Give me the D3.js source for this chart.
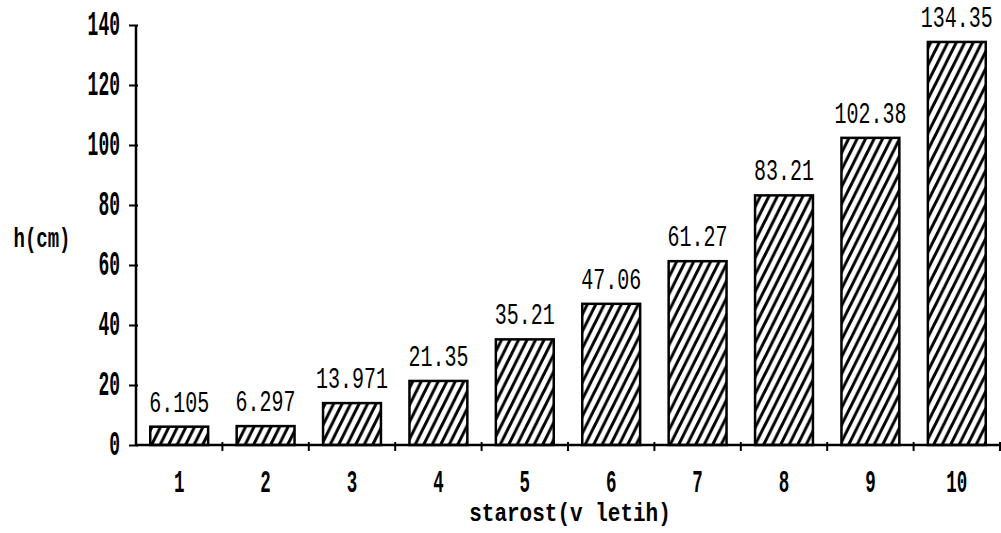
<!DOCTYPE html>
<html><head><meta charset="utf-8">
<script src="https://cdn.jsdelivr.net/npm/d3@7"></script>
<style>body{margin:0;background:#fff}svg{display:block}</style>
</head><body>
<svg id="c" width="1001" height="533"></svg>
<script>
const categories = ["1","2","3","4","5","6","7","8","9","10"];
const values = [6.105, 6.297, 13.971, 21.35, 35.21, 47.06, 61.27, 83.21, 102.38, 134.35];
const valueLabels = ["6.105","6.297","13.971","21.35","35.21","47.06","61.27","83.21","102.38","134.35"];
const yTicks = [0,20,40,60,80,100,120,140];
const yTickLabels = ["0","20","40","60","80","100","120","140"];
const xTitle = "starost(v letih)";
const yTitle = "h(cm)";

const svg = d3.select("#c");
const font = "'Liberation Mono', 'DejaVu Sans Mono', monospace";
const x = d3.scaleBand().domain(categories).range([136, 1000]).paddingInner(0.33).paddingOuter(0.165);
const y = d3.scaleLinear().domain([0,140]).range([445, 25]);

const defs = svg.append("defs");
const pat = defs.append("pattern").attr("id","hatch").attr("patternUnits","userSpaceOnUse")
  .attr("width",8.5).attr("height",17);
pat.append("path").attr("d","M-4.25,25.5 L8.5,0 M0,17 L8.5,0 M0,17 L12.75,-8.5 M-4.25,8.5 L4.25,-8.5 M4.25,25.5 L12.75,8.5")
  .attr("stroke","#000").attr("stroke-width",3).attr("fill","none");

function txt(g, s, px, py, size, weight, anchor, sx, sy){
  return g.append("text").attr("transform",`translate(${px},${py}) scale(${sx},${sy})`)
    .attr("text-anchor",anchor).attr("font-family",font).attr("font-size",size)
    .attr("font-weight",weight).attr("fill","#000").text(s);
}

// bars
svg.append("g").selectAll("rect").data(values).join("rect")
  .attr("x",(d,i)=>x(categories[i])).attr("width",x.bandwidth())
  .attr("y",d=>y(d)).attr("height",d=>y(0)-y(d))
  .attr("fill","url(#hatch)").attr("stroke","#000").attr("stroke-width",2.5);

// y axis
const ya = svg.append("g").attr("transform","translate(136,0)")
  .call(d3.axisLeft(y).tickValues(yTicks).tickSize(7).tickFormat(""));
ya.select(".domain").attr("stroke-width",2.5).attr("d","M0,25V445");
ya.selectAll(".tick line").attr("stroke-width",2).attr("x2",-7).attr("x1",2);
const yl = svg.append("g");
yTicks.forEach((t,i)=>txt(yl, yTickLabels[i], 120, y(t)+10, 18, "bold", "end", 1.0, 1.9));

// x axis
const bounds = d3.range(1, categories.length+1).map(i => 136 + i*x.step());
const xa = svg.append("g").attr("transform","translate(0,445)");
xa.call(d3.axisBottom(x).tickSize(0).tickFormat(""));
xa.select(".domain").attr("stroke-width",2.5).attr("d","M136,0H1000");
xa.selectAll("line.b").data(bounds).join("line").attr("class","b")
  .attr("x1",d=>d).attr("x2",d=>d).attr("y1",-3).attr("y2",6).attr("stroke","#000").attr("stroke-width",2);
const xl = svg.append("g");
categories.forEach(c=>txt(xl, c, x(c)+x.bandwidth()/2, 492, 17.5, "bold", "middle", 1.0, 1.75));

// value labels
const vl = svg.append("g");
values.forEach((v,i)=>txt(vl, valueLabels[i], x(categories[i])+x.bandwidth()/2, y(v)-15, 20, "normal", "middle", 1.0, 1.45));

// titles
txt(svg, yTitle, 42, 247, 19, "bold", "middle", 1.0, 1.5);
txt(svg, xTitle, 570, 521, 21, "bold", "middle", 1.0, 1.2);
</script>
</body></html>
